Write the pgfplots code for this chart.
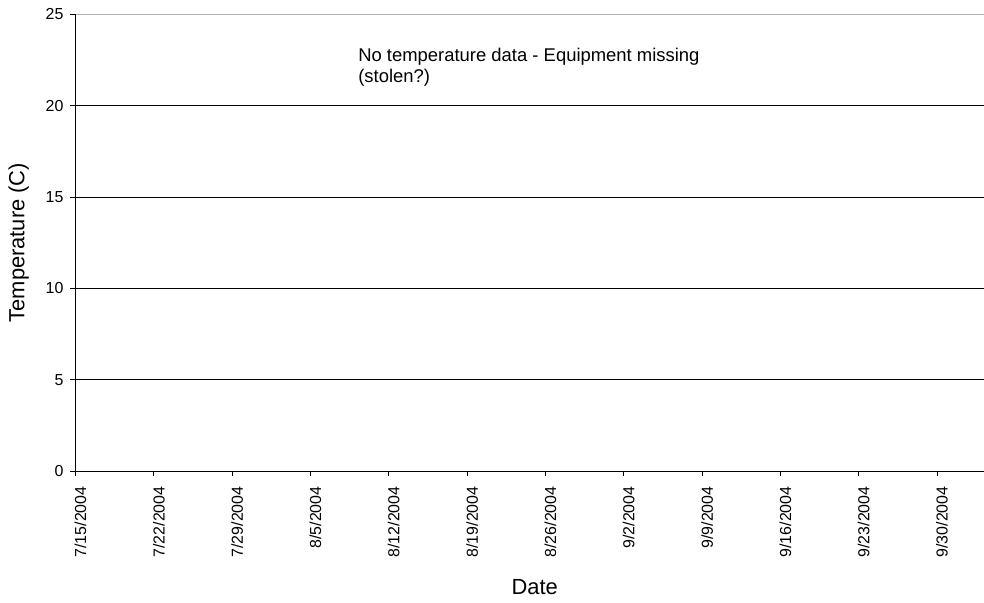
\documentclass[border=0pt]{standalone}
\usepackage{fontspec}
\setmainfont{Liberation Sans}
\usepackage{pgfplots}
\pgfplotsset{compat=1.18}
\begin{document}
\begin{tikzpicture}[x=1bp,y=1bp]
\useasboundingbox (0,0) rectangle (984,603);
\begin{axis}[
    at={(75.5bp,132bp)}, anchor=south west,
    scale only axis,
    width=908.5bp, height=456.7bp,
    xmin=0, xmax=81.2, ymin=0, ymax=25,
    axis x line*=bottom, axis y line*=left,
    axis line style={black, line width=0.9bp, -},
    xtick={0,7,...,77},
    xticklabels={7/15/2004,7/22/2004,7/29/2004,8/5/2004,8/12/2004,8/19/2004,8/26/2004,9/2/2004,9/9/2004,9/16/2004,9/23/2004,9/30/2004},
    xticklabel style={xshift=5bp, yshift=-7bp, rotate=90, anchor=east, font=\fontsize{16}{18}\selectfont},
    ytick={0,5,...,20},
    extra y ticks={25},
    extra y tick style={grid style={gray!60, line width=1.5bp}},
    yticklabel style={xshift=-3.5bp, font=\fontsize{16}{18}\selectfont},
    /pgf/number format/assume math mode=true,
    ymajorgrids,
    grid style={black, line width=0.9bp},
    tick align=outside, major tick length=5bp,
    tick style={black, line width=0.9bp},
    xlabel={Date}, ylabel={Temperature (C)},
    label style={font=\fontsize{22}{26}\selectfont},
    xlabel style={xshift=5bp, yshift=-17bp, inner sep=1bp},
    clip=false,
]
\node[anchor=north west, align=left, inner sep=0pt,
      font=\fontsize{18.5}{20.5}\selectfont]
    at (axis cs:25.26,23.15) {No temperature data - Equipment missing\\(stolen?)};
\end{axis}
\end{tikzpicture}
\end{document}
